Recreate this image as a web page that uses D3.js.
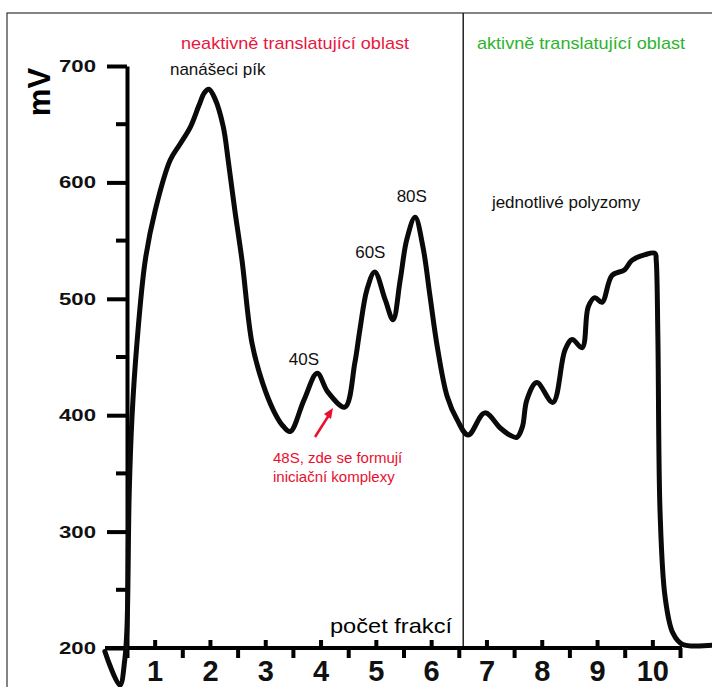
<!DOCTYPE html>
<html>
<head>
<meta charset="utf-8">
<script src="https://cdn.jsdelivr.net/npm/d3@7"></script>
<style>
  body { margin: 0; background: #fff; }
  svg { display: block; font-family: "Liberation Sans", Arial, sans-serif; }
</style>
</head>
<body>
<svg width="712" height="687"></svg>
<script>
// fraction position (0..10 on the fraction axis) and detector signal in mV
const fraction = [-0.40, -0.13, -0.04, 0.00, 0.04, 0.09, 0.18, 0.33, 0.51, 0.78, 0.96, 1.15, 1.30, 1.40, 1.48, 1.59, 1.74, 1.83, 1.95, 2.08, 2.26, 2.45, 2.65, 2.80, 2.95, 3.20, 3.44, 3.63, 3.94, 4.12, 4.21, 4.34, 4.48, 4.67, 4.81, 4.94, 5.06, 5.21, 5.35, 5.48, 5.61, 5.79, 5.97, 6.17, 6.47, 6.75, 6.92, 7.05, 7.15, 7.23, 7.41, 7.70, 7.92, 8.05, 8.23, 8.34, 8.46, 8.59, 8.77, 9.00, 9.13, 9.37, 9.55, 9.57, 9.60, 9.64, 9.73, 9.87, 10.05, 10.70]
const signal = [197, 168, 190, 218, 333, 398, 462, 533, 576, 619, 633, 648, 666, 677, 680, 672, 648, 619, 576, 533, 462, 428, 404, 392, 386, 413, 436, 420, 407, 445, 473, 508, 523, 499, 482, 516, 551, 570, 545, 502, 459, 416, 396, 383, 402, 389, 383, 381, 390, 413, 428, 411, 456, 465, 458, 493, 501, 497, 520, 525, 533, 538, 539, 533, 467, 316, 244, 213, 203, 203]

const xLabels = ["1", "2", "3", "4", "5", "6", "7", "8", "9", "10"]
const yMajor = [200, 300, 400, 500, 600, 700]
const yMinor = [250, 350, 450, 550, 650]

// peak labels: [fraction, mV, text]
const peakLabels = [
  [1.64, 692, "nanášeci pík"],
  [3.2, 443, "40S"],
  [4.4, 535, "60S"],
  [5.15, 583, "80S"],
  [7.94, 578, "jednotlivé polyzomy"]
]

const svg = d3.select("svg")

const x = d3.scaleLinear().domain([0, 10]).range([127, 680])
const y = d3.scaleLinear().domain([200, 700]).range([648, 66])

// outer frame
svg.append("rect")
  .attr("x", 7).attr("y", 13)
  .attr("width", 740).attr("height", 720)
  .attr("fill", "none")
  .attr("stroke", "#333")
  .attr("stroke-width", 1.2)

// divider between inactive and active region
svg.append("line")
  .attr("x1", x(6.08)).attr("x2", x(6.08))
  .attr("y1", 13).attr("y2", y(200))
  .attr("stroke", "#222")
  .attr("stroke-width", 1.5)

svg.append("text")
  .attr("x", 295).attr("y", 49)
  .attr("text-anchor", "middle")
  .attr("fill", "#e8173f")
  .style("font-size", "17px")
  .attr("textLength", 228)
  .attr("lengthAdjust", "spacingAndGlyphs")
  .text("neaktivně translatující oblast")

svg.append("text")
  .attr("x", 581).attr("y", 49)
  .attr("text-anchor", "middle")
  .attr("fill", "#2cb42c")
  .style("font-size", "17px")
  .attr("textLength", 208)
  .attr("lengthAdjust", "spacingAndGlyphs")
  .text("aktivně translatující oblast")

// y axis
const yAxis = d3.axisLeft(y)
  .tickValues(yMajor)
  .tickSize(20)
  .tickSizeOuter(0)
  .tickPadding(11)
  .tickFormat(d3.format("d"))

const gy = svg.append("g")
  .attr("transform", "translate(" + x(0) + ",0)")
  .call(yAxis)
gy.selectAll("path, line").attr("stroke", "#000").attr("stroke-width", 4)
gy.selectAll("text")
  .attr("fill", "#111")
  .attr("textLength", 37)
  .attr("lengthAdjust", "spacingAndGlyphs")
  .style("font-size", "17px")
  .style("font-weight", "bold")
  .style("font-family", "'Liberation Sans', Arial, sans-serif")

gy.selectAll(".minor")
  .data(yMinor)
  .enter().append("line")
  .attr("x1", -11).attr("x2", 0)
  .attr("y1", d => y(d)).attr("y2", d => y(d))
  .attr("stroke", "#000")
  .attr("stroke-width", 4)

svg.append("text")
  .attr("transform", "translate(50,92) rotate(-90)")
  .attr("text-anchor", "middle")
  .style("font-size", "31px")
  .style("font-weight", "bold")
  .text("mV")

// x axis: boundaries get downward ticks, fraction centres upward ticks + labels
svg.append("line")
  .attr("x1", x(0) - 22).attr("x2", x(10) + 2)
  .attr("y1", y(200)).attr("y2", y(200))
  .attr("stroke", "#000")
  .attr("stroke-width", 4)

const gxb = svg.append("g")
  .attr("transform", "translate(0," + y(200) + ")")
  .call(d3.axisBottom(x).tickValues(d3.range(0, 11)).tickSize(10).tickSizeOuter(0).tickFormat(""))
gxb.select(".domain").remove()
gxb.selectAll("line").attr("stroke", "#000").attr("stroke-width", 4)

const gxt = svg.append("g")
  .attr("transform", "translate(0," + y(200) + ")")
  .call(d3.axisBottom(x)
    .tickValues(xLabels.map((d, i) => i + 0.5))
    .tickSize(-8)
    .tickSizeOuter(0)
    .tickPadding(12)
    .tickFormat((d, i) => xLabels[i]))
gxt.select(".domain").remove()
gxt.selectAll("line").attr("stroke", "#000").attr("stroke-width", 4)
gxt.selectAll("text")
  .attr("fill", "#111")
  .style("font-size", "29px")
  .style("font-weight", "bold")
  .style("font-family", "'Liberation Sans', Arial, sans-serif")

svg.append("text")
  .attr("x", 391).attr("y", 633)
  .attr("text-anchor", "middle")
  .style("font-size", "21px")
  .attr("textLength", 122)
  .attr("lengthAdjust", "spacingAndGlyphs")
  .text("počet frakcí")

// gradient profile
const line = d3.line()
  .x((d, i) => x(fraction[i]))
  .y(d => y(d))
  .curve(d3.curveCatmullRom.alpha(0.5))

svg.append("path")
  .datum(signal)
  .attr("d", line)
  .attr("fill", "none")
  .attr("stroke", "#0a0a0a")
  .attr("stroke-width", 5)
  .attr("stroke-linejoin", "round")
  .attr("stroke-linecap", "round")

svg.selectAll(".peak")
  .data(peakLabels)
  .enter().append("text")
  .attr("x", d => x(d[0]))
  .attr("y", d => y(d[1]))
  .attr("text-anchor", "middle")
  .attr("fill", "#111")
  .style("font-size", "17px")
  .text(d => d[2])

// 48S annotation
svg.append("line")
  .attr("x1", 315).attr("y1", 437)
  .attr("x2", 329).attr("y2", 415)
  .attr("stroke", "#e8102e")
  .attr("stroke-width", 2.5)
svg.append("path")
  .attr("d", "M333,408 L324,414 L331,419 Z")
  .attr("fill", "#e8102e")

svg.append("text")
  .attr("x", 273).attr("y", 463)
  .attr("fill", "#e8102e")
  .style("font-size", "15px")
  .text("48S, zde se formují")
svg.append("text")
  .attr("x", 273).attr("y", 482)
  .attr("fill", "#e8102e")
  .style("font-size", "15px")
  .text("iniciační komplexy")
</script>
</body>
</html>
